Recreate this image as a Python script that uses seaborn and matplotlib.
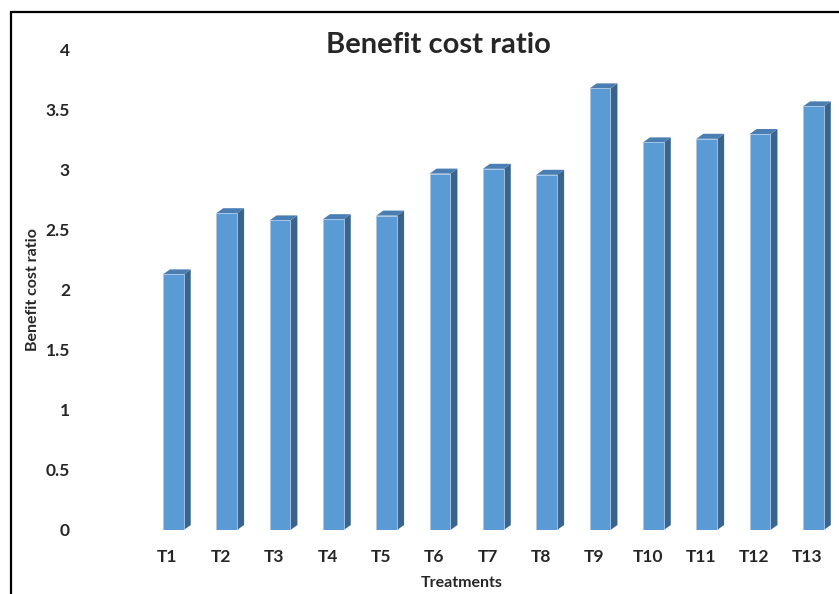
import numpy as np
import pandas as pd
import seaborn as sns
import matplotlib.pyplot as plt
from matplotlib.patches import Polygon, Rectangle

treatments = ["T1", "T2", "T3", "T4", "T5", "T6", "T7", "T8", "T9", "T10", "T11", "T12", "T13"]
bcr = [2.13, 2.64, 2.58, 2.59, 2.62, 2.97, 3.01, 2.96, 3.68, 3.23, 3.26, 3.30, 3.53]
y_ticks = [0, 0.5, 1, 1.5, 2, 2.5, 3, 3.5, 4]
y_tick_labels = ["0", "0.5", "1", "1.5", "2", "2.5", "3", "3.5", "4"]

sns.set_theme(style="white")
plt.rcParams["font.family"] = ["Lato", "DejaVu Sans"]
plt.rcParams["font.weight"] = "bold"

W, H = 839, 594
fig = plt.figure(figsize=(W / 100, H / 100), dpi=100)
fig.patch.set_facecolor("white")

# axes: value 0 at y=530px, value 4 at y=50px; x spans 120px..839px
ax = fig.add_axes([120 / W, (H - 530) / H, (839 - 120) / W, 480 / H])

df = pd.DataFrame({"Treatments": treatments, "Benefit cost ratio": bcr})
front = "#5B9BD5"
side = "#3A6489"
top = "#4A7DB1"
sns.barplot(data=df, x="Treatments", y="Benefit cost ratio", color=front,
            saturation=1, width=0.39, ax=ax, zorder=3)

ax.set_xlim(-1.0, 12.48)
ax.set_ylim(0, 4)

# depth of the pseudo-3D columns, in pixels converted to data units
px_x = (12.48 + 1.0) / (839 - 120)
px_y = 4 / 480
dx, dy = 7 * px_x, 5 * px_y

for bar in ax.patches:
    x0 = bar.get_x()
    x1 = x0 + bar.get_width()
    h = bar.get_height()
    bar.set_edgecolor("#A9C8E8")
    bar.set_linewidth(0.6)
    ax.add_patch(Polygon([(x1, 0), (x1 + dx, dy), (x1 + dx, h + dy), (x1, h)],
                         closed=True, facecolor=side, edgecolor="none", zorder=2.9,
                         clip_on=False))
    ax.add_patch(Polygon([(x0, h), (x0 + dx, h + dy), (x1 + dx, h + dy), (x1, h)],
                         closed=True, facecolor=top, edgecolor="none", zorder=2.9,
                         clip_on=False))

for s in ax.spines.values():
    s.set_visible(False)
ax.grid(False)

ax.set_yticks(y_ticks)
ax.set_yticklabels(y_tick_labels, fontsize=12.5, fontweight="bold")
ax.set_xticks(np.arange(len(treatments)) - 0.11)
ax.set_xticklabels(treatments, fontsize=12.5, fontweight="bold")
ax.tick_params(axis="y", length=0, pad=36)
ax.tick_params(axis="x", length=0, pad=14)

ax.set_xlabel("Treatments", fontsize=11.5, fontweight="bold")
ax.xaxis.set_label_coords((462 - 120) / (839 - 120), -(583 - 530) / 480)
ax.xaxis.label.set_va("center")
ax.set_ylabel("Benefit cost ratio", fontsize=11.5, fontweight="bold")
ax.yaxis.set_label_coords((33 - 120) / (839 - 120), (530 - 290) / 480)
ax.yaxis.label.set_va("center")

fig.text(438 / W, 1 - 45 / H, "Benefit cost ratio", ha="center", va="center",
         fontsize=21, fontweight="bold")

# chart-area frame, open to the right and bottom
fig.add_artist(Rectangle((11 / W, -0.2), 2.0, 1.2 - 12 / H,
                         transform=fig.transFigure, fill=False,
                         edgecolor="black", linewidth=1.6))

fig.savefig("out.png", dpi=100, facecolor="white")
